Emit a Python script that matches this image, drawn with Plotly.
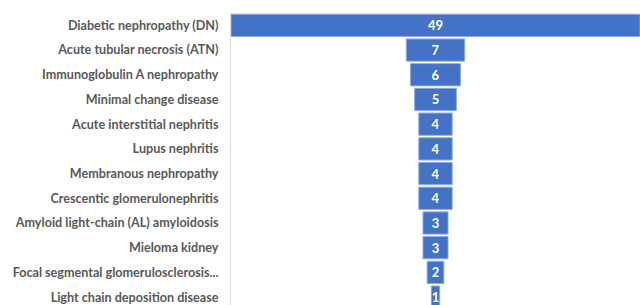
import plotly.graph_objects as go

categories = [
    "Diabetic nephropathy (DN)",
    "Acute tubular necrosis (ATN)",
    "Immunoglobulin A nephropathy",
    "Minimal change disease",
    "Acute interstitial nephritis",
    "Lupus nephritis",
    "Membranous nephropathy",
    "Crescentic glomerulonephritis",
    "Amyloid light-chain (AL) amyloidosis",
    "Mieloma kidney",
    "Focal segmental glomerulosclerosis...",
    "Light chain deposition disease",
]
values = [49, 7, 6, 5, 4, 4, 4, 4, 3, 3, 2, 1]

fig = go.Figure(go.Funnel(
    y=categories,
    x=values,
    textinfo="value",
    textposition="inside",
    insidetextfont=dict(color="white", size=13, family="Lato", weight="bold"),
    marker=dict(color="#4472C4", line=dict(color="#8FAADC", width=1)),
    connector=dict(visible=False),
    hoverinfo="skip",
))

fig.update_layout(
    width=640, height=305,
    margin=dict(l=231, r=0, t=13, b=0),
    paper_bgcolor="white", plot_bgcolor="white",
    funnelgap=0.1,
    showlegend=False,
    uniformtext=dict(minsize=13, mode="show"),
    xaxis=dict(range=[-24.5, 24.5], visible=False),
    yaxis=dict(
        range=[11.32, -0.5],
        showline=True, linecolor="#D9D9D9", linewidth=1,
        showgrid=False, zeroline=False,
        tickfont=dict(family="Lato", size=12.6, color="#595959", weight="bold"),
        ticklabelstandoff=9,
    ),
)

fig.write_html(
    "out.html",
    config={"displayModeBar": False},
    post_script="document.body.style.margin='0';document.body.style.overflow='hidden';",
)
